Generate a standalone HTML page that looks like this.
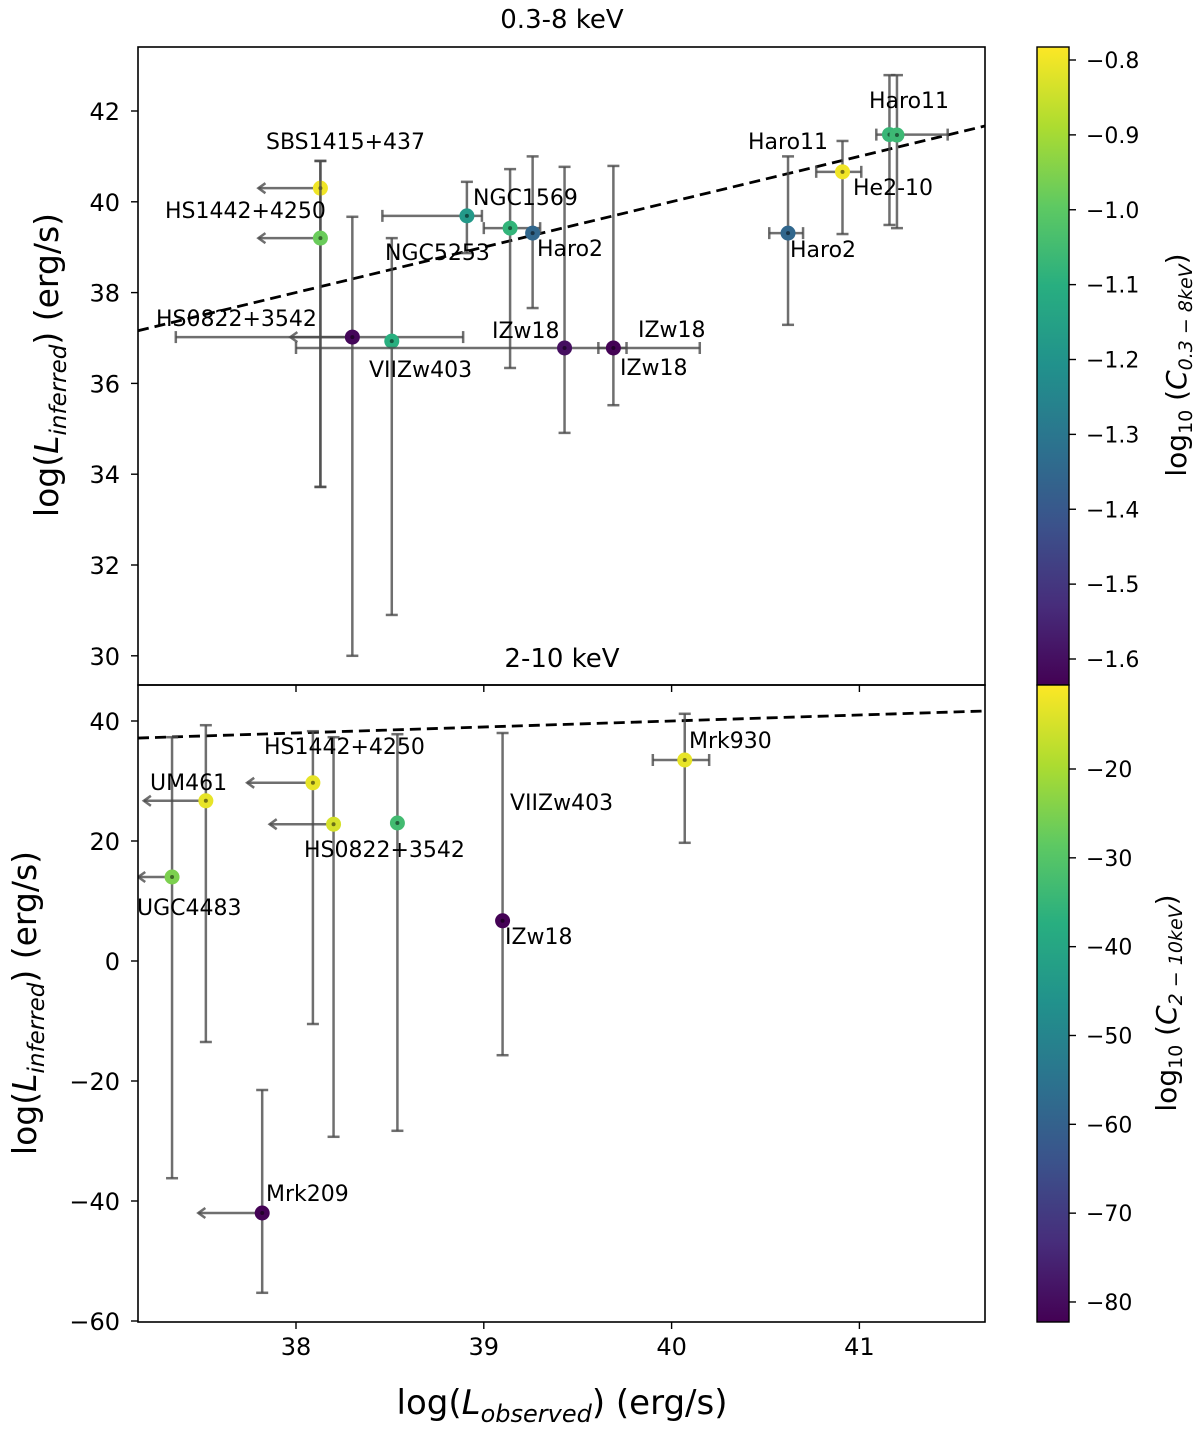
<!DOCTYPE html>
<html><head><meta charset="utf-8"><style>
body{margin:0;background:#fff;}
svg text{font-family:"DejaVu Sans","Liberation Sans",sans-serif;fill:#000;}
</style></head><body>
<svg id="chart" width="1200" height="1429" xmlns="http://www.w3.org/2000/svg">
<defs>
<linearGradient id="vir" x1="0" y1="1" x2="0" y2="0">
<stop offset="0" stop-color="#440154"/><stop offset="0.125" stop-color="#472d7b"/><stop offset="0.25" stop-color="#3b528b"/><stop offset="0.375" stop-color="#2c728e"/><stop offset="0.5" stop-color="#21918c"/><stop offset="0.625" stop-color="#28ae80"/><stop offset="0.75" stop-color="#5ec962"/><stop offset="0.875" stop-color="#addc30"/><stop offset="1" stop-color="#fde725"/>
</linearGradient>
</defs>
<g id="g"></g>
</svg>
<script>
// ---- data ----
const topNames=["SBS1415+437","HS1442+4250","HS0822+3542","VIIZw403","NGC1569","NGC5253","Haro2","IZw18","IZw18","Haro2","He2-10","Haro11","Haro11"];
const topX=[38.13,38.13,38.30,38.51,38.91,39.14,39.26,39.43,39.69,40.62,40.91,41.16,41.20];
const topY=[40.30,39.20,37.02,36.93,39.69,39.42,39.31,36.78,36.78,39.31,40.66,41.48,41.47];
const topXlo=[null,null,37.36,null,38.46,39.0,null,38.0,39.61,40.52,40.77,41.09,null];
const topXhi=[null,null,38.89,null,38.99,39.30,null,40.15,39.76,40.70,41.01,41.47,null];
const topYlo=[33.72,33.72,30.0,30.9,38.87,36.34,37.66,34.91,35.52,37.29,39.29,39.49,39.42];
const topYhi=[40.90,40.90,39.67,39.2,40.44,40.72,41.0,40.77,40.79,41.0,41.34,42.79,42.79];
const topC=[-0.8,-0.98,-1.62,-1.1,-1.18,-1.08,-1.35,-1.6,-1.63,-1.35,-0.8,-1.07,-1.06];
const topUL=[37.80,37.80,37.97,null,null,null,null,null,null,null,null,null,null];

const botNames=["UM461","UGC4483","HS1442+4250","HS0822+3542","VIIZw403","IZw18","Mrk930","Mrk209"];
const botX=[37.52,37.34,38.09,38.20,38.54,39.10,40.07,37.82];
const botY=[26.7,14.0,29.7,22.8,23.0,6.7,33.5,-42];
const botXlo=[null,null,null,null,null,null,39.90,null];
const botXhi=[null,null,null,null,null,null,40.20,null];
const botYlo=[-13.5,-36.2,-10.5,-29.3,-28.3,-15.7,19.7,-55.3];
const botYhi=[39.3,37.3,38.3,37.3,37.8,38,41.2,-21.5];
const botC=[-13,-25,-13,-15,-33,-82,-13,-82];
const botUL=[37.19,37.16,37.74,37.86,null,null,null,37.48];

const topLabels=[["SBS1415+437",266,149],["HS1442+4250",165,218],["HS0822+3542",156,326],["VIIZw403",369,377],["NGC1569",473,205],["NGC5253",385,260],["Haro2",537,256],["IZw18",492,338],["IZw18",638,337],["IZw18",620,375],["Haro11",748,149],["Haro2",790,257],["He2-10",853,195],["Haro11",869,108]];
const botLabels=[["HS1442+4250",264,754],["UM461",150,790],["HS0822+3542",304,857],["UGC4483",137,915],["VIIZw403",510,810],["IZw18",505,944],["Mrk930",689,748],["Mrk209",266,1201]];
const xTicks=[38,39,40,41];
const topYTicks=[30,32,34,36,38,40,42];
const botYTicks=[-60,-40,-20,0,20,40];
const cbTopTicks=[-0.8,-0.9,-1.0,-1.1,-1.2,-1.3,-1.4,-1.5,-1.6];
const cbBotTicks=[-20,-30,-40,-50,-60,-70,-80];

// ---- scales ----
const L=138,R=985,T1=47,B1=685,T2=685,B2=1322;
const X=v=>296+(v-38)*187.8;
const Y1=v=>111+(42-v)*45.4;
const Y2=v=>721+(40-v)*6;
const cb1=v=>60+(-0.8-v)*748.75;
const cb2=v=>769+(-20-v)*8.883;
const c1=v=>(v-(-1.634))/(-0.783-(-1.634));
const c2=v=>(v-(-82.25))/(-10.5-(-82.25));
const vstops=["#440154","#472d7b","#3b528b","#2c728e","#21918c","#28ae80","#5ec962","#addc30","#fde725"];
function vir(t){t=Math.max(0,Math.min(1,t));const f=t*8,i=Math.min(7,Math.floor(f)),u=f-i;
 const a=vstops[i],b=vstops[i+1];const h=(s,k)=>parseInt(s.substr(1+2*k,2),16);
 let o="rgb(";for(let k=0;k<3;k++){o+=Math.round(h(a,k)+(h(b,k)-h(a,k))*u)+(k<2?",":")");}return o;}

const NS="http://www.w3.org/2000/svg",G=document.getElementById("g");
function el(tag,attrs,parent){const e=document.createElementNS(NS,tag);for(const k in attrs)e.setAttribute(k,attrs[k]);(parent||G).appendChild(e);return e;}
function txt(s,x,y,size,anchor,parent){const t=el("text",{x:x,y:y,"font-size":size,"text-anchor":anchor||"start"},parent);t.textContent=s;return t;}

function panel(names,xs,ys,xlo,xhi,ylo,yhi,cs,ul,Yf,cf,T,B,labels,pname){
 const grp=el("g",{});
 
 
 const clip=el("clipPath",{id:pname+"clip"});el("rect",{x:L,y:T,width:R-L,height:B-T},clip);
 grp.setAttribute("clip-path","url(#"+pname+"clip)");
 const d=el("line",{x1:L,y1:Yf(37.16),x2:R,y2:Yf(41.67),stroke:"#000","stroke-width":2.8,"stroke-dasharray":"11,6"},grp);
 
 
 const ec="rgba(75,75,75,0.8)";
 for(let i=0;i<xs.length;i++){
  const g=el("g",{},grp);
  
  
  const px=X(xs[i]),py=Yf(ys[i]);
  el("line",{x1:px,y1:Yf(ylo[i]),x2:px,y2:Yf(yhi[i]),stroke:ec,"stroke-width":2.5},g);
  el("line",{x1:px-6,y1:Yf(ylo[i]),x2:px+6,y2:Yf(ylo[i]),stroke:ec,"stroke-width":2.5},g);
  el("line",{x1:px-6,y1:Yf(yhi[i]),x2:px+6,y2:Yf(yhi[i]),stroke:ec,"stroke-width":2.5},g);
  if(xlo[i]!==null){const a=X(xlo[i]),b=X(xhi[i]);
   el("line",{x1:a,y1:py,x2:b,y2:py,stroke:ec,"stroke-width":2.5},g);
   el("line",{x1:a,y1:py-6,x2:a,y2:py+6,stroke:ec,"stroke-width":2.5},g);
   el("line",{x1:b,y1:py-6,x2:b,y2:py+6,stroke:ec,"stroke-width":2.5},g);}
  if(ul[i]!==null){const a=X(ul[i]);
   el("line",{x1:px,y1:py,x2:a,y2:py,stroke:ec,"stroke-width":2.5},g);
   el("polyline",{points:(a+7)+","+(py-5)+" "+a+","+py+" "+(a+7)+","+(py+5),fill:"none",stroke:ec,"stroke-width":2.5},g);}
  el("circle",{cx:px,cy:py,r:7.5,fill:vir(cf(cs[i]))},g);
  el("circle",{cx:px,cy:py,r:2,fill:"rgba(0,0,0,0.5)"},g);
 }
 for(const lb of labels){const t=txt(lb[0],lb[1],lb[2],22,"start");
  
  }
}
panel(topNames,topX,topY,topXlo,topXhi,topYlo,topYhi,topC,topUL,Y1,c1,T1,B1,topLabels,"top");
panel(botNames,botX,botY,botXlo,botXhi,botYlo,botYhi,botC,botUL,Y2,c2,T2,B2,botLabels,"bottom");

for(const [T,B,n] of [[T1,B1,"top-axes-frame"],[T2,B2,"bottom-axes-frame"]]){
 const r=el("rect",{x:L,y:T,width:R-L,height:B-T,fill:"none",stroke:"#000","stroke-width":1.6});
 
 
}
for(const v of topYTicks){const y=Y1(v);el("line",{x1:L-7,y1:y,x2:L,y2:y,stroke:"#000","stroke-width":1.4});
 const t=txt(String(v),120,y+9,24,"end");
 
 }
for(const v of botYTicks){const y=Y2(v);el("line",{x1:L-7,y1:y,x2:L,y2:y,stroke:"#000","stroke-width":1.4});
 const t=txt(v<0?"\u2212"+(-v):String(v),120,y+9,24,"end");
 
 }
for(const v of xTicks){const x=X(v);el("line",{x1:x,y1:B2,x2:x,y2:B2+7,stroke:"#000","stroke-width":1.4});
 el("line",{x1:x,y1:B1,x2:x,y2:B1+7,stroke:"#000","stroke-width":1.4});
 const t=txt(String(v),x,B2+33,24,"middle");
 
 }

let t=txt("0.3-8 keV",562,28,26,"middle");


t=txt("2-10 keV",562,667,26,"middle");



function rich(x,y,size,parts,rot,name){
 const tt=el("text",{x:x,y:y,"font-size":size,"text-anchor":"middle",transform:rot?"rotate(-90 "+x+" "+y+")":""});
 
 
 for(const p of parts){const s=el("tspan",p[1]||{},tt);s.textContent=p[0];}
 return tt;}
rich(58,365,33,[["log("],["L",{"font-style":"italic"}],["inferred",{"font-style":"italic","font-size":23,dy:8}],[") (erg/s)",{dy:-8}]],true,"top-y-axis-title");
rich(36,1003,33,[["log("],["L",{"font-style":"italic"}],["inferred",{"font-style":"italic","font-size":23,dy:8}],[") (erg/s)",{dy:-8}]],true,"bottom-y-axis-title");
rich(562,1414,34,[["log("],["L",{"font-style":"italic"}],["observed",{"font-style":"italic","font-size":24,dy:8}],[") (erg/s)",{dy:-8}]],false,"x-axis-title");

const CX=1037,CW=32;
for(const [T,B,n] of [[T1,B1,"top-colorbar"],[T2,B2,"bottom-colorbar"]]){
 const r=el("rect",{x:CX,y:T,width:CW,height:B-T,fill:"url(#vir)",stroke:"#000","stroke-width":1.4});
 
 
}
for(const v of cbTopTicks){const y=cb1(v);el("line",{x1:CX+CW,y1:y,x2:CX+CW+7,y2:y,stroke:"#000","stroke-width":1.4});
 const tt=txt("\u2212"+(-v).toFixed(1),1086,y+8,22,"start");
 
 }
for(const v of cbBotTicks){const y=cb2(v);el("line",{x1:CX+CW,y1:y,x2:CX+CW+7,y2:y,stroke:"#000","stroke-width":1.4});
 const tt=txt("\u2212"+(-v),1086,y+8,22,"start");
 
 }
rich(1186,365,28,[["log"],["10",{"font-size":19,dy:6}],[" (",{dy:-6}],["C",{"font-style":"italic"}],["0.3 \u2212 8keV",{"font-style":"italic","font-size":19,dy:6}],[")",{dy:-6}]],true,"top-colorbar-title");
rich(1176,1003,28,[["log"],["10",{"font-size":19,dy:6}],[" (",{dy:-6}],["C",{"font-style":"italic"}],["2 \u2212 10keV",{"font-style":"italic","font-size":19,dy:6}],[")",{dy:-6}]],true,"bottom-colorbar-title");
</script>
</body></html>
